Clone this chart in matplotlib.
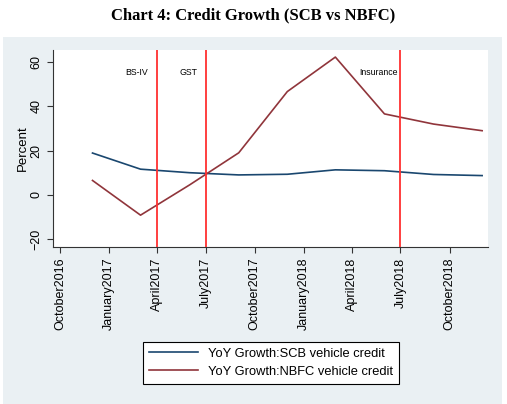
import matplotlib
matplotlib.use("Agg")
import matplotlib.pyplot as plt
from matplotlib.patches import Rectangle
import pandas as pd

# quarterly observations
dates = ["2016-12", "2017-03", "2017-06", "2017-09", "2017-12",
         "2018-03", "2018-06", "2018-09", "2018-12"]
scb = [18.9, 11.6, 10.0, 9.0, 9.3, 11.3, 10.9, 9.2, 8.7]
nbfc = [6.5, -9.2, 4.5, 19.0, 46.7, 62.3, 36.6, 32.0, 29.0]

# event markers
events = ["BS-IV", "GST", "Insurance"]
event_dates = ["2017-04", "2017-07", "2018-07"]
label_gap_days = [17, 15, 6]

tick_dates = ["2016-10", "2017-01", "2017-04", "2017-07", "2017-10",
              "2018-01", "2018-04", "2018-07", "2018-10"]
tick_labels = ["October2016", "January2017", "April2017", "July2017", "October2017",
               "January2018", "April2018", "July2018", "October2018"]

x = pd.to_datetime(dates)
ev = pd.to_datetime(event_dates)
tx = pd.to_datetime(tick_dates)

plt.rcParams['font.family'] = ['Liberation Sans', 'DejaVu Sans']

W, H = 507, 404
fig = plt.figure(figsize=(W / 100, H / 100), dpi=100)
fig.patch.set_facecolor("white")
fig.patches.append(Rectangle((3 / W, 0), 499 / W, (H - 37) / H, transform=fig.transFigure,
                             facecolor="#eaf0f3", edgecolor="none", zorder=-1))

fig.text(0.5, 1 - 15 / H, "Chart 4: Credit Growth (SCB vs NBFC)", ha="center", va="center",
         fontsize=12, fontweight="bold", family="Liberation Serif")

ax = fig.add_axes([53 / W, 1 - 247 / H, 435 / W, 197 / H])
ax.set_zorder(1)
ax.set_facecolor("white")

ax.plot(x, scb, color="#1a476f", lw=1.2, label="YoY Growth:SCB vehicle credit")
ax.plot(x, nbfc, color="#90353b", lw=1.2, label="YoY Growth:NBFC vehicle credit")

for name, d, gap in zip(events, ev, label_gap_days):
    ax.axvline(d, color="#ff3030", lw=1.3, zorder=3)
    ax.text(d - pd.Timedelta(days=gap), 55.5, name, ha="right", va="center", fontsize=6.3)

ax.set_ylim(-23.6, 65.5)
ax.set_xlim(pd.Timestamp("2016-10-01") - pd.Timedelta(days=13),
             pd.Timestamp("2016-10-01") + pd.Timedelta(days=int(26.4 * 30.4)))
ax.set_yticks([-20, 0, 20, 40, 60])
ax.set_xticks(tx)
ax.set_xticklabels(tick_labels, rotation=90, fontsize=9)
for lab in ax.get_yticklabels():
    lab.set_rotation(90)
    lab.set_va("center")
    lab.set_fontsize(9)
ax.set_ylabel("Percent", fontsize=9.5, labelpad=1.5)
ax.tick_params(direction="out", length=4, width=0.8, color="#333333")
for s in ["top", "right"]:
    ax.spines[s].set_visible(False)
for s in ["left", "bottom"]:
    ax.spines[s].set_color("#333333")
    ax.spines[s].set_linewidth(0.8)

leg = fig.legend(loc="upper left", bbox_to_anchor=(143 / W, 1 - 342 / H), fontsize=9.3,
                 frameon=True, fancybox=False, edgecolor="black", framealpha=1,
                 handlelength=3.8, borderpad=0.45, labelspacing=0.45, borderaxespad=0)
leg.get_frame().set_linewidth(0.8)

fig.savefig("out.png", dpi=100)
